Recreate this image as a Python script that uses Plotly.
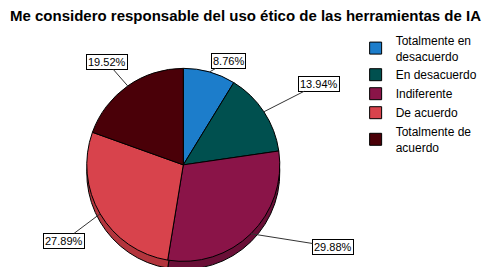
import math
import plotly.graph_objects as go

categories = ["Totalmente en desacuerdo", "En desacuerdo", "Indiferente", "De acuerdo", "Totalmente de acuerdo"]
legend_labels = ["Totalmente en<br>desacuerdo", "En desacuerdo", "Indiferente", "De acuerdo", "Totalmente de<br>acuerdo"]
values = [8.76, 13.94, 29.88, 27.89, 19.52]
value_labels = ["8.76%", "13.94%", "29.88%", "27.89%", "19.52%"]
colors = ["#1C7DCB", "#00504F", "#8A1448", "#D8434C", "#4A0008"]
rim_colors = ["#16629F", "#003B3B", "#6A0F37", "#B3353D", "#350006"]
# pixel offsets of each label box from its slice edge
label_offsets = [(19, -11), (55, -28), (82, 13), (-36, 27), (-21, -24)]

W, H = 491, 267
dom_x = [0.032, 0.682]
dom_y = [0.051, 0.774]
rim_shift = 8 / H

fig = go.Figure()
# side rim (3D effect)
fig.add_trace(go.Pie(
    labels=legend_labels, values=values, sort=False, direction="clockwise", rotation=0,
    marker=dict(colors=rim_colors, line=dict(color="#000000", width=1)),
    textinfo="none", hoverinfo="skip", showlegend=False,
    domain=dict(x=dom_x, y=[max(0.0, dom_y[0] - rim_shift), dom_y[1] - rim_shift]),
))
fig.add_trace(go.Pie(
    labels=legend_labels, values=values, sort=False, direction="clockwise", rotation=0,
    marker=dict(colors=colors, line=dict(color="#000000", width=1)),
    textinfo="none", hovertemplate="%{label}: %{value}%<extra></extra>",
    domain=dict(x=dom_x, y=dom_y),
))

# label boxes with leader lines, anchored at the slice mid-angles
cx = (dom_x[0] + dom_x[1]) / 2 * W
cy = (1 - (dom_y[0] + dom_y[1]) / 2) * H
R = min((dom_x[1] - dom_x[0]) * W, (dom_y[1] - dom_y[0]) * H) / 2
total = sum(values)
cum = 0
for v, lab, (ox, oy) in zip(values, value_labels, label_offsets):
    mid = (cum + v / 2) / total * 2 * math.pi
    cum += v
    dx, dy = math.sin(mid), -math.cos(mid)
    px, py = cx + R * dx, cy + R * dy
    fig.add_annotation(
        x=px / W, y=1 - py / H, xref="paper", yref="paper",
        text=lab, showarrow=True, arrowhead=0, arrowwidth=1, arrowcolor="#333333",
        ax=ox, ay=oy, axref="pixel", ayref="pixel",
        bordercolor="#000000", borderwidth=1, borderpad=1, bgcolor="#FFFFFF",
        font=dict(family="Liberation Sans, Arial", size=11, color="#000000"),
    )

fig.update_layout(
    width=W, height=H,
    margin=dict(l=0, r=0, t=0, b=0),
    paper_bgcolor="#FFFFFF", plot_bgcolor="#FFFFFF",
    title=dict(text="<b>Me considero responsable del uso ético de las herramientas de IA</b>",
               x=2 / W, xanchor="left", y=1 - 8 / H, yanchor="middle",
               font=dict(family="Liberation Sans, Arial", size=15, color="#000000")),
    legend=dict(x=0.708, y=1 - 18 / H, xanchor="left", yanchor="top",
                font=dict(family="Liberation Sans, Arial", size=12, color="#000000"),
                itemwidth=30, tracegroupgap=0, bgcolor="rgba(0,0,0,0)"),
    showlegend=True,
)

fig.write_html("out.html")
